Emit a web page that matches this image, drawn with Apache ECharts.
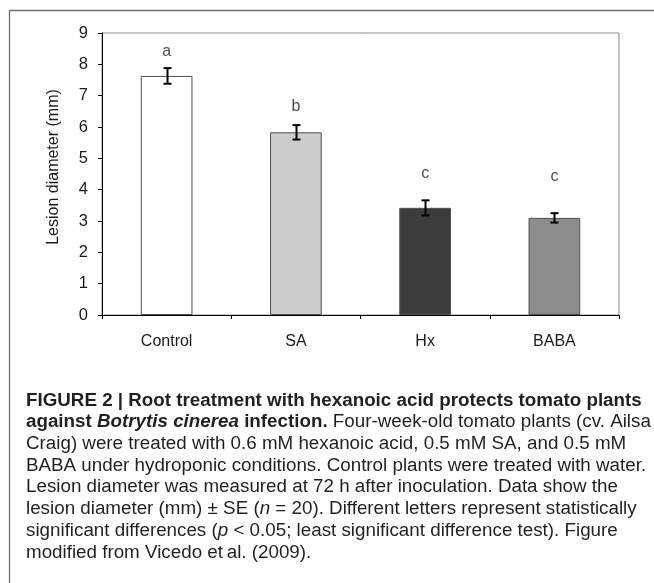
<!DOCTYPE html>
<html><head><meta charset="utf-8">
<script src="https://cdn.jsdelivr.net/npm/echarts@6/dist/echarts.min.js"></script>
<style>html,body{margin:0;padding:0;background:#fff}#c{width:654px;height:583px}</style>
</head><body><div id="c"></div>
<script>
// ---- data ----
const categories = ['Control', 'SA', 'Hx', 'BABA'];
const means = [7.63, 5.83, 3.42, 3.10];
const errors = [0.25, 0.23, 0.24, 0.15];
const letters = ['a', 'b', 'c', 'c'];
const letterY = [8.40, 6.65, 4.52, 4.41];
const yMin = 0, yMax = 9, yStep = 1;
const axisTitle = 'Lesion diameter (mm)';
const captionLines = [
  '{b|FIGURE 2 | Root treatment with hexanoic acid protects tomato plants}',
  '{b|against }{bi|Botrytis cinerea}{b| infection.}{r| Four-week-old tomato plants (cv. Ailsa}',
  '{r|Craig) were treated with 0.6 mM hexanoic acid, 0.5 mM SA, and 0.5 mM}',
  '{r|BABA under hydroponic conditions. Control plants were treated with water.}',
  '{r|Lesion diameter was measured at 72 h after inoculation. Data show the}',
  '{r|lesion diameter (mm) \u00b1 SE (}{i|n}{r| = 20). Different letters represent statistically}',
  '{r|significant differences (}{i|p}{r| < 0.05; least significant difference test). Figure}',
  '{r|modified from }{g|Vicedo et\u2009al. (2009)}{r|.}'
];

// ---- styles ----
const barFills = ['#ffffff', '#cccccc', '#3c3c3c', '#8c8c8c'];
const FONT = 'Liberation Sans, Arial, sans-serif';
const CAP_FONT = '"Liberation Sans Narrow", "Liberation Sans", Arial, sans-serif';
const capSize = 18.8;

const chart = echarts.init(document.getElementById('c'), null, {renderer: 'canvas'});

const rich = {
  b: {fontFamily: CAP_FONT, fontSize: capSize, fontWeight: 'bold', color: '#231f20'},
  bi: {fontFamily: CAP_FONT, fontSize: capSize, fontWeight: 'bold', fontStyle: 'italic', color: '#231f20'},
  r: {fontFamily: CAP_FONT, fontSize: capSize, color: '#231f20'},
  i: {fontFamily: CAP_FONT, fontSize: capSize, fontStyle: 'italic', color: '#231f20'},
  g: {fontFamily: CAP_FONT, fontSize: capSize, color: '#8a8a8a'}
};

const captionGraphics = captionLines.map((t, i) => ({
  type: 'text',
  left: 26,
  top: 391 + i * 21.7,
  style: {text: t, rich: rich, fontFamily: CAP_FONT, fontSize: capSize, fill: '#231f20'}
}));

const option = {
  animation: false,
  backgroundColor: '#ffffff',
  grid: {left: 102, right: 35, top: 33, bottom: 268, show: true, borderColor: '#8a8a8a', borderWidth: 1, backgroundColor: 'transparent'},
  xAxis: {
    type: 'category',
    data: categories,
    boundaryGap: true,
    axisLine: {lineStyle: {color: '#000', width: 1}},
    axisTick: {show: true, length: 4, inside: false, alignWithLabel: false, lineStyle: {color: '#000'}},
    axisLabel: {margin: 19, fontFamily: FONT, fontSize: 16, color: '#1a1a1a'},
    splitLine: {show: false}
  },
  yAxis: {
    type: 'value',
    min: yMin, max: yMax, interval: yStep,
    name: axisTitle,
    nameLocation: 'middle',
    nameGap: 40,
    nameRotate: 90,
    nameTextStyle: {fontFamily: FONT, fontSize: 16, color: '#1a1a1a', padding: [0, 0, 0, 14]},
    axisLine: {show: true, lineStyle: {color: '#000', width: 1}},
    axisTick: {show: true, length: 4, lineStyle: {color: '#000'}},
    axisLabel: {margin: 14, fontFamily: FONT, fontSize: 16.5, color: '#1a1a1a'},
    splitLine: {show: false}
  },
  series: [
    {
      type: 'bar',
      barWidth: '40%',
      data: means.map((v, i) => ({value: v, itemStyle: {color: barFills[i], borderColor: '#505050', borderWidth: 1}})),
      z: 2
    },
    {
      type: 'custom',
      z: 5,
      data: means.map((v, i) => [i, v - errors[i], v + errors[i]]),
      renderItem: function (params, api) {
        const lo = api.coord([api.value(0), api.value(1)]);
        const hi = api.coord([api.value(0), api.value(2)]);
        const x = Math.round(lo[0]) + 0.5;
        const w = 4;
        const st = {stroke: '#000', lineWidth: 2, fill: null};
        return {
          type: 'group',
          children: [
            {type: 'line', shape: {x1: x, y1: hi[1], x2: x, y2: lo[1]}, style: st},
            {type: 'line', shape: {x1: x - w, y1: hi[1], x2: x + w, y2: hi[1]}, style: st},
            {type: 'line', shape: {x1: x - w, y1: lo[1], x2: x + w, y2: lo[1]}, style: st}
          ]
        };
      }
    },
    {
      type: 'scatter',
      symbolSize: 0,
      z: 6,
      data: letterY.map((v, i) => [i, v]),
      label: {
        show: true,
        position: 'inside',
        formatter: p => letters[p.dataIndex],
        fontFamily: FONT, fontSize: 16, color: '#1a1a1a'
      }
    }
  ],
  graphic: [
    {type: 'rect', shape: {x: 9.5, y: 10.5, width: 700, height: 700}, style: {fill: null, stroke: '#6e6e6e', lineWidth: 1.3}, silent: true, z: -1}
  ].concat(captionGraphics)
};
chart.setOption(option);
</script></body></html>
